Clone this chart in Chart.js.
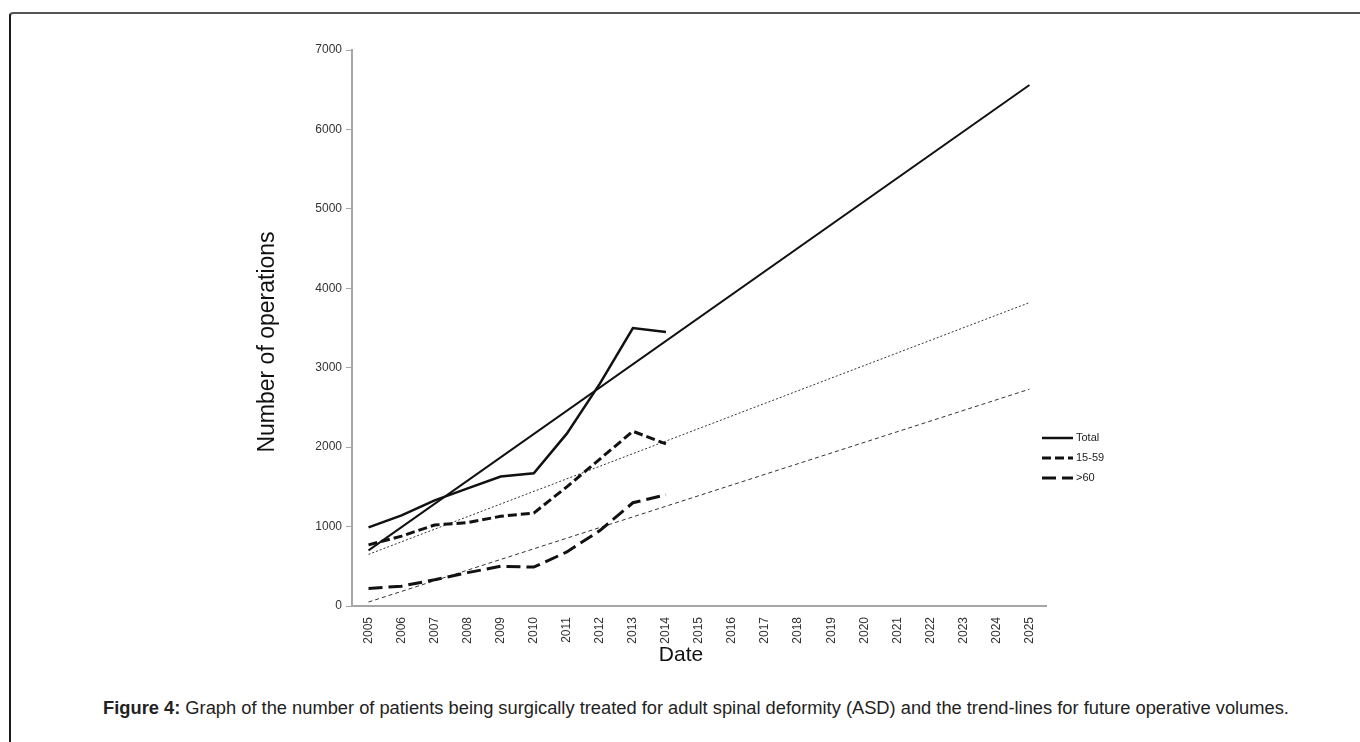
<!DOCTYPE html>
<html><head><meta charset="utf-8">
<script src="https://cdn.jsdelivr.net/npm/chart.js@4.4.0/dist/chart.umd.min.js"></script>
<style>
html,body{margin:0;padding:0;background:#fff;width:1360px;height:742px;overflow:hidden;font-family:"Liberation Sans",Arial,sans-serif;}
#frame{position:absolute;left:9px;top:12px;width:1360px;height:740px;border-left:2px solid #1a1a1a;border-top:2px solid #555;border-top-left-radius:4px;}
#wrap{position:absolute;left:0;top:0;width:1360px;height:690px;}
#cap{position:absolute;left:16px;width:1360px;top:697px;text-align:center;font-size:18.3px;color:#222;}
</style></head><body>
<div id="frame"></div>
<div id="wrap"><canvas id="c"></canvas></div>
<div id="cap"><b>Figure 4:</b> Graph of the number of patients being surgically treated for adult spinal deformity (ASD) and the trend-lines for future operative volumes.</div>
<script>
const years = ['2005','2006','2007','2008','2009','2010','2011','2012','2013','2014','2015','2016','2017','2018','2019','2020','2021','2022','2023','2024','2025'];
const yTicks = [0,1000,2000,3000,4000,5000,6000,7000];
const total   = [990,1140,1330,1480,1630,1670,2170,2800,3500,3450,null,null,null,null,null,null,null,null,null,null,null];
const age1559 = [770,880,1020,1050,1130,1170,1500,1850,2200,2040,null,null,null,null,null,null,null,null,null,null,null];
const age60   = [220,250,330,420,500,490,680,950,1300,1400,null,null,null,null,null,null,null,null,null,null,null];
const totalTrend   = [700,null,null,null,null,null,null,null,null,null,null,null,null,null,null,null,null,null,null,null,6560];
const age1559Trend = [650,null,null,null,null,null,null,null,null,null,null,null,null,null,null,null,null,null,null,null,3820];
const age60Trend   = [50,null,null,null,null,null,null,null,null,null,null,null,null,null,null,null,null,null,null,null,2730];
const xTitle = 'Date';
const yTitle = 'Number of operations';

const FONT = '"Liberation Sans", Arial, sans-serif';

const legendPlugin = {
  id:'customLegend',
  afterDraw(chart){
    const ctx = chart.ctx;
    const items = chart.data.datasets.filter(d=>d.inLegend);
    ctx.save();
    ctx.font = '11px ' + FONT;
    ctx.fillStyle = '#222';
    ctx.textBaseline = 'middle';
    items.forEach((d,i)=>{
      const y = 438 + i*20;
      ctx.beginPath();
      ctx.setLineDash(d.borderDash||[]);
      ctx.lineWidth = d.borderWidth;
      ctx.strokeStyle = d.borderColor;
      ctx.moveTo(1042,y); ctx.lineTo(1073,y);
      ctx.stroke();
      ctx.setLineDash([]);
      ctx.fillText(d.label, 1076, y);
    });
    ctx.fillStyle = '#111';
    ctx.textAlign = 'center';
    ctx.font = '21px ' + FONT;
    ctx.fillText(xTitle, 681, 655);
    ctx.translate(268, 342);
    ctx.rotate(-Math.PI/2);
    ctx.font = '23px ' + FONT;
    ctx.fillText(yTitle, 0, 0);
    ctx.restore();
  }
};

new Chart(document.getElementById('c'), {
  type:'line',
  data:{
    labels: years,
    datasets:[
      {label:'Total', data: total, borderColor:'#111', borderWidth:2.5, pointRadius:0, inLegend:true},
      {label:'15-59', data: age1559, borderColor:'#111', borderWidth:3, borderDash:[9,4], pointRadius:0, inLegend:true},
      {label:'>60', data: age60, borderColor:'#111', borderWidth:3, borderDash:[14,6], pointRadius:0, inLegend:true},
      {label:'Total trend', data: totalTrend, borderColor:'#111', borderWidth:2, pointRadius:0, spanGaps:true},
      {label:'15-59 trend', data: age1559Trend, borderColor:'#333', borderWidth:1, borderDash:[2,2], pointRadius:0, spanGaps:true},
      {label:'>60 trend', data: age60Trend, borderColor:'#333', borderWidth:1, borderDash:[4,3], pointRadius:0, spanGaps:true}
    ]
  },
  options:{
    responsive:true, maintainAspectRatio:false, animation:false,
    layout:{padding:{left:252, right:314, top:50, bottom:22}},
    plugins:{legend:{display:false}, tooltip:{enabled:false}},
    scales:{
      x:{
        offset:true,
        afterFit(s){ s.height = 62; },
        grid:{display:true, drawOnChartArea:false, drawTicks:false},
        border:{display:true, color:'#a6a6a6', width:2},
        ticks:{minRotation:90, maxRotation:90, autoSkip:false, padding:11, color:'#333', font:{size:12, family:FONT}}
      },
      y:{
        min:0, max:7000,
        afterFit(s){ s.width = 100; },
        afterBuildTicks(s){ s.ticks = yTicks.map(v=>({value:v})); },
        grid:{display:true, drawOnChartArea:false, drawTicks:true, tickLength:6, color:'#a6a6a6'},
        border:{display:true, color:'#a6a6a6', width:2},
        ticks:{padding:4, color:'#333', font:{size:12, family:FONT}, callback:(v)=>String(v)}
      }
    }
  },
  plugins:[legendPlugin]
});
</script>
</body></html>
